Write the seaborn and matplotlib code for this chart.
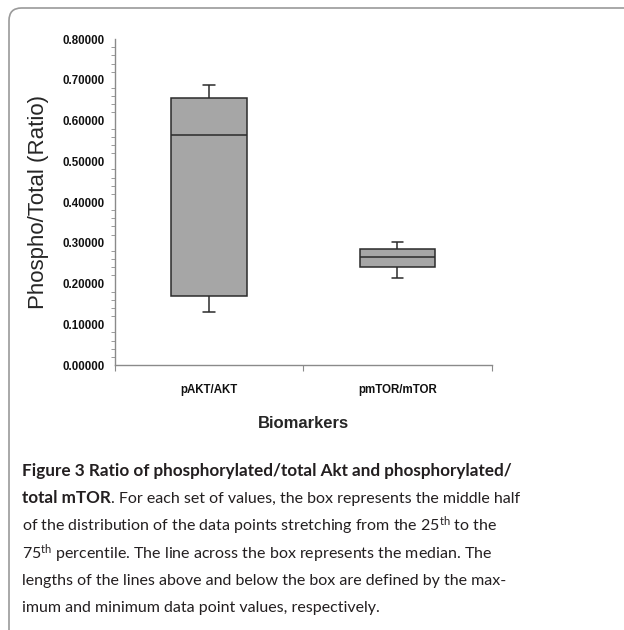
import numpy as np
import pandas as pd
import matplotlib
matplotlib.use("Agg")
import matplotlib.pyplot as plt
import seaborn as sns
from matplotlib.patches import FancyBboxPatch
from matplotlib.ticker import MultipleLocator, FormatStrFormatter, FixedLocator

# five-number summaries (min, q1, median, q3, max)
categories = ["pAKT/AKT", "pmTOR/mTOR"]
akt_values = [0.131, 0.169, 0.564, 0.655, 0.687]
mtor_values = [0.213, 0.241, 0.265, 0.285, 0.302]

y_label = "Phospho/Total (Ratio)"
x_label = "Biomarkers"

caption_title = "Figure 3 Ratio of phosphorylated/total Akt and phosphorylated/"
caption_title_end = "total mTOR"
caption_lines = [
    ". For each set of values, the box represents the middle half",
    r"of the distribution of the data points stretching from the 25$^{\mathrm{th}}$ to the",
    r"75$^{\mathrm{th}}$ percentile. The line across the box represents the median. The",
    "lengths of the lines above and below the box are defined by the max-",
    "imum and minimum data point values, respectively.",
]

df = pd.DataFrame({
    "marker": [categories[0]] * len(akt_values) + [categories[1]] * len(mtor_values),
    "ratio": akt_values + mtor_values,
})

sns.set_style("white")
plt.rcParams["font.family"] = ["Liberation Sans", "DejaVu Sans"]
plt.rcParams["mathtext.fontset"] = "custom"
plt.rcParams["mathtext.rm"] = "Lato"
plt.rcParams["mathtext.bf"] = "Lato:bold"
plt.rcParams["mathtext.it"] = "Lato:italic"

fig = plt.figure(figsize=(6.24, 6.3), dpi=100)
ax = fig.add_axes([0.184, 0.4206, 0.604, 0.5174])

sns.boxplot(data=df, x="marker", y="ratio", order=categories, ax=ax,
            whis=(0, 100), width=0.4, color="#a6a6a6", saturation=1,
            linecolor="#2b2b2b", linewidth=1.1, capwidths=0.06)

ax.set_ylim(0, 0.8)
ax.set_xlim(-0.5, 1.5)
ax.yaxis.set_major_locator(MultipleLocator(0.1))
ax.yaxis.set_minor_locator(MultipleLocator(0.02))
ax.yaxis.set_major_formatter(FormatStrFormatter("%.5f"))
ax.xaxis.set_minor_locator(FixedLocator([-0.5, 0.5, 1.5]))

for side in ["top", "right"]:
    ax.spines[side].set_visible(False)
for side in ["left", "bottom"]:
    ax.spines[side].set_color("#8a8a8a")
    ax.spines[side].set_linewidth(1.0)

ax.tick_params(axis="y", which="major", direction="out", length=4, width=0.8,
               color="#8a8a8a", pad=3, labelsize=8.3, labelcolor="#111111")
ax.tick_params(axis="y", which="minor", direction="out", length=3, width=0.6,
               color="#8a8a8a", left=True)
ax.tick_params(axis="x", which="major", length=0, pad=14, labelsize=8.3,
               labelcolor="#111111")
ax.tick_params(axis="x", which="minor", direction="out", length=4, width=0.8,
               color="#8a8a8a", bottom=True)
for lab in ax.get_yticklabels() + ax.get_xticklabels():
    lab.set_fontweight("bold")

ax.set_ylabel(y_label, fontsize=16, labelpad=10)
ax.set_xlabel(x_label, fontsize=12, fontweight="bold", labelpad=14)

# rounded frame around the figure panel
frame = FancyBboxPatch((9 / 624, -0.02), 1.1, 1.0 - 8 / 630 + 0.02,
                       boxstyle="round,pad=0,rounding_size=0.02",
                       transform=fig.transFigure, fill=False,
                       edgecolor="#9a9a9a", linewidth=1.2, clip_on=False)
fig.add_artist(frame)

# caption
cap_color = "#231f20"
y0 = 1 - 471 / 630
step = 27.4 / 630
fig.text(22 / 624, y0, caption_title, fontsize=12.3, family="Lato",
         fontweight="bold", color=cap_color, va="center", ha="left")
bold_part = fig.text(22 / 624, y0 - step, caption_title_end, fontsize=12.3,
                     family="Lato", fontweight="bold", color=cap_color,
                     va="center", ha="left")
ax.annotate(caption_lines[0], xy=(1, 0), xycoords=bold_part, fontsize=11.5,
            family="Lato", color=cap_color, va="bottom", ha="left")
for i, line in enumerate(caption_lines[1:], start=2):
    fig.text(22 / 624, y0 - i * step, line, fontsize=11.5, family="Lato",
             color=cap_color, va="center", ha="left")

fig.savefig("out.png", dpi=100)
